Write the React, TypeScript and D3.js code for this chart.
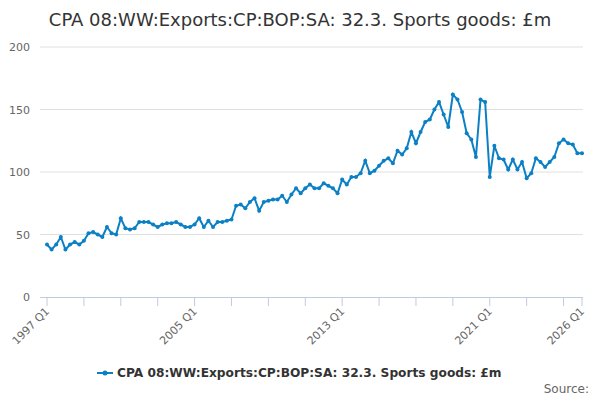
import React from "react";
import * as d3 from "d3";

const title = "CPA 08:WW:Exports:CP:BOP:SA: 32.3. Sports goods: £m";
const startYear = 1997;
const values = [
  42,38,42,48,38,42,44,42,45,51,52,50,48,56,51,50,63,55,54,55,60,60,60,58,56,58,59,59,60,58,56,56,58,63,56,61,56,60,
  60,61,62,73,74,71,76,79,69,76,77,78,78,81,76,82,87,83,87,90,87,87,91,89,87,83,94,90,96,96,99,109,99,101,105,109,111,107,117,
  114,119,132,123,132,140,142,150,156,146,136,162,158,148,131,126,112,158,156,96,121,111,110,102,110,102,108,95,99,111,108,104,108,112,123,126,123,122,115,115
];
const yTicks = [0, 50, 100, 150, 200];
const xLabelIdx = [0, 32, 64, 96, 116];

const color = "#0b80c4";

export default function App() {
  const W = 600, H = 400;
  const x = d3.scaleLinear().domain([0, 116]).range([47, 582]);
  const y = d3.scaleLinear().domain([0, 200]).range([297, 47]);
  const line = d3.line<number>().x((_, i) => x(i)).y(d => y(d));
  const label = (i: number) => `${startYear + Math.floor(i / 4)} Q${(i % 4) + 1}`;
  const minorTicks = d3.range(0, 117, 8).concat([116]);
  return (
    <svg width={W} height={H} style={{ position: "absolute", left: 0, top: 0, fontFamily: "'DejaVu Sans', sans-serif" }}>
      <rect width={W} height={H} fill="#fff" />
      <text x={300} y={26} textAnchor="middle" fontSize={18} fill="#333">{title}</text>
      {yTicks.map(t => (
        <g key={t}>
          {t > 0 && <line x1={40} x2={583} y1={y(t)} y2={y(t)} stroke="#e0e0e0" />}
          <text x={30} y={y(t) + 4} textAnchor="end" fontSize={11} fill="#666">{t}</text>
        </g>
      ))}
      <line x1={40} x2={583} y1={297.5} y2={297.5} stroke="#c0cbe0" />
      {minorTicks.map(i => (
        <line key={i} x1={x(i)} x2={x(i)} y1={297} y2={306} stroke="#c0cbe0" />
      ))}
      {xLabelIdx.map(i => (
        <text key={i} transform={`translate(${x(i) + 3},${312}) rotate(-45)`} textAnchor="end" fontSize={11} fill="#666">{label(i)}</text>
      ))}
      <path d={line(values) || ""} fill="none" stroke={color} strokeWidth={2} />
      {values.map((v, i) => <circle key={i} cx={x(i)} cy={y(v)} r={2} fill={color} />)}
      <g>
        <line x1={97} x2={113} y1={373} y2={373} stroke={color} strokeWidth={2} />
        <circle cx={105} cy={373} r={2.5} fill={color} />
        <text x={117} y={377} fontSize={12.2} fontWeight="bold" fill="#333">{title}</text>
      </g>
      <text x={589} y={393} textAnchor="end" fontSize={12} fill="#666">Source:</text>
    </svg>
  );
}
